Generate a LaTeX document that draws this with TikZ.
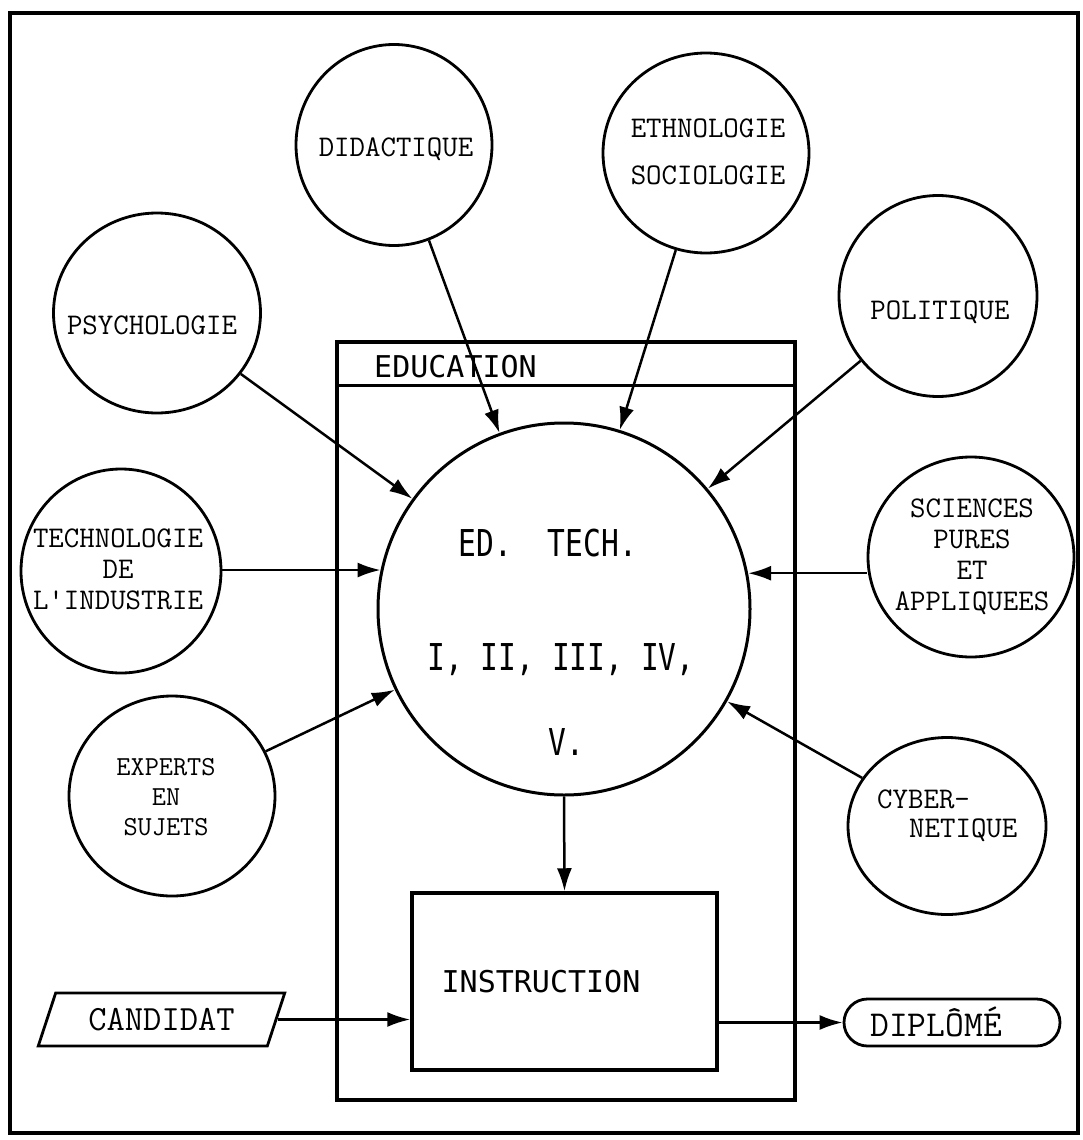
\documentclass[tikz,border=0pt]{standalone}
\usepackage{fontspec}
\newfontfamily\boxfont{DejaVu Sans Mono}
\usetikzlibrary{shapes.geometric,shapes.misc,arrows.meta}
\newcommand{\satf}[2]{\ttfamily\addfontfeatures{FakeBold=1.2}\fontsize{#1}{#2}\selectfont}
\begin{document}
\begin{tikzpicture}[x=1pt,y=-1pt,
  sat/.style={draw,ellipse,line width=2.8pt,inner sep=0pt},
  sattext/.style={align=center,inner sep=0pt,font=\satf{30}{31}},
  arr/.style={line width=2.5pt,-{Latex[length=23pt,width=15pt]}},
  boxtext/.style={inner sep=0pt,font=\boxfont\fontsize{30}{32}\selectfont},
  bigtext/.style={inner sep=0pt,font=\boxfont\fontsize{37}{40}\selectfont},
  ]
\useasboundingbox (0,0) rectangle (1083,1140);
\fill[white] (0,0) rectangle (1083,1140);
\draw[line width=3.5pt] (10,13) rectangle (1078,1133);

% education box
\node[draw,line width=3.5pt,minimum width=458pt,minimum height=758pt,inner sep=0pt] (edu) at (566,721) {};
\draw[line width=3pt] ([yshift=-45pt]edu.north west) -- ([yshift=-45pt]edu.north east);
\node[boxtext,anchor=west] (eduT) at (374,367) {EDUCATION};

% central circle
\node[draw,circle,line width=3pt,minimum size=372pt,inner sep=0pt] (ed) at (564,609) {};
\node[bigtext] (edT1) at (548,543) {\scalebox{0.8}[1]{ED.\ \ TECH.}};
\node[bigtext] (edT2) at (561,660) {\scalebox{0.8}[1]{I, II, III, IV,}};
\node[bigtext] (edT3) at (566,742) {\scalebox{0.8}[1]{V.}};

% instruction
\node[draw,line width=3.5pt,minimum width=305pt,minimum height=177pt,inner sep=0pt] (instr) at (564.5,981.5) {};
\node[boxtext] (instrT) at (541,982) {INSTRUCTION};

% satellites
\node[sat,minimum width=196pt,minimum height=201pt] (did) at (394,145) {};
\node[sattext] (didT) at (396,149) {DIDACTIQUE};

\node[sat,minimum width=206pt,minimum height=200pt] (eth) at (706,153) {};
\node[sattext] (ethT) at (708,152) {ETHNOLOGIE\\[16pt]SOCIOLOGIE};

\node[sat,minimum width=207pt,minimum height=200pt] (psy) at (157,313) {};
\node[sattext] (psyT) at (152,325) {PSYCHOLOGIE};

\node[sat,minimum width=198pt,minimum height=201pt] (pol) at (938,296) {};
\node[sattext] (polT) at (940,312) {POLITIQUE};

\node[sat,minimum width=200pt,minimum height=204pt] (tech) at (121,571) {};
\node[sattext] (techT) at (118,569) {TECHNOLOGIE\\DE\\L'INDUSTRIE};

\node[sat,minimum width=206pt,minimum height=200pt] (sci) at (971,557) {};
\node[sattext] (sciT) at (972,557) {SCIENCES\\PURES\\ET\\APPLIQUEES};

\node[sat,minimum width=206pt,minimum height=200pt] (exp) at (172,796) {};
\node[sattext,font=\satf{27.5}{30}] (expT) at (166,797) {EXPERTS\\EN\\SUJETS};

\node[sat,minimum width=198pt,minimum height=177pt] (cyb) at (947,826) {};
\node[sattext,anchor=west] (cybT1) at (877,799) {CYBER-};
\node[sattext,anchor=west] (cybT2) at (909,830) {NETIQUE};

% candidat and diplome
\node[draw,trapezium,trapezium left angle=62,trapezium right angle=118,
      trapezium stretches=true,minimum width=247pt,minimum height=53pt,
      line width=2.8pt,inner sep=0pt,font=\satf{35.5}{37}] (cand) at (161.5,1019.5) {CANDIDAT\hspace{27pt}};

\node[draw,rounded rectangle,line width=2.8pt,minimum width=216pt,minimum height=47pt,inner sep=0pt] (dip) at (952,1022.5) {};
\node[sattext,font=\satf{36.5}{38}] (dipT) at (936,1022) {DIPLÔMÉ};

% connectors
\draw[arr] (did) -- (ed);
\draw[arr] (eth) -- (ed);
\draw[arr] (psy) -- (ed);
\draw[arr] (pol) -- (ed);
\draw[arr] (ed.168.5 -| tech.east) -- (ed.168.5);
\draw[arr] (ed.11.5 -| sci.west) -- (ed.11.5);
\draw[arr] (exp) -- (ed);
\draw[arr] (cyb) -- (ed);
\draw[arr] (ed.south) -- (instr.north);
\draw[arr] (cand.east) -- (cand.east -| instr.west);
\draw[arr] (dip.west -| instr.east) -- (dip.west);
\end{tikzpicture}
\end{document}
